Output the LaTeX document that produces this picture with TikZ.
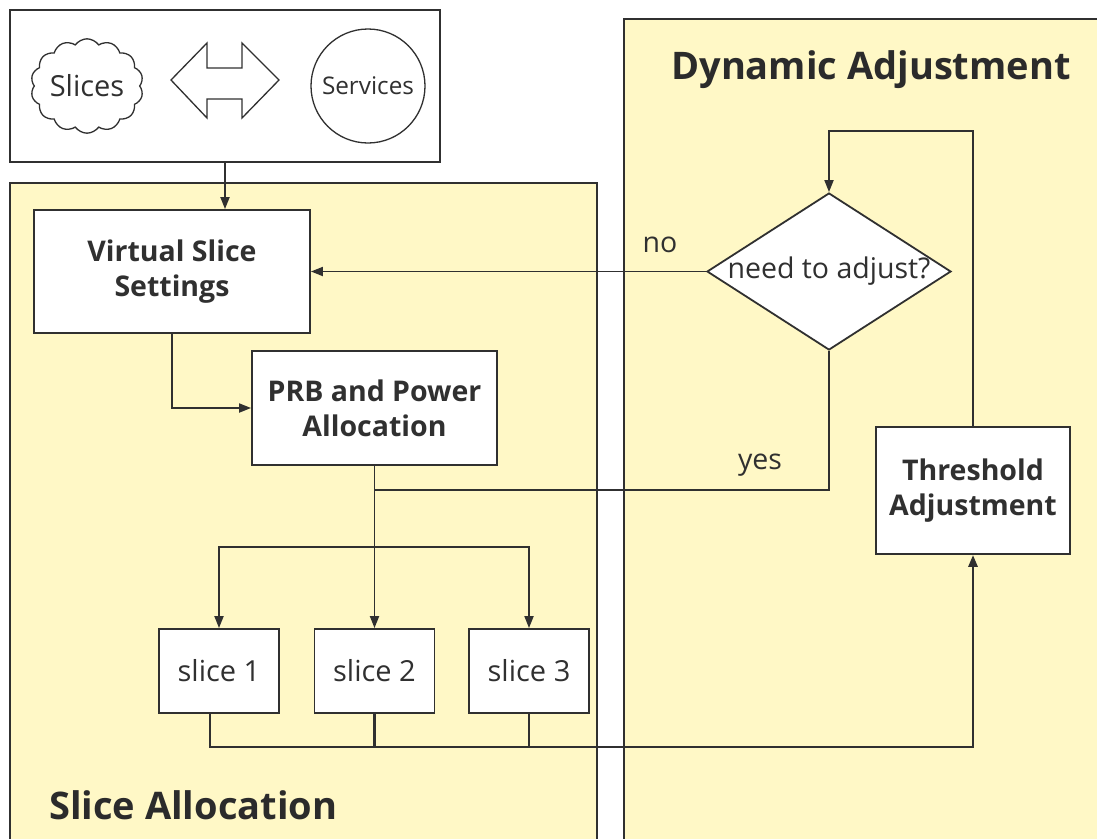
\documentclass[tikz,border=0pt]{standalone}
\usepackage{fontspec}
\setmainfont{Open Sans}
\usetikzlibrary{shapes.geometric,shapes.symbols,arrows.meta}
\definecolor{panelfill}{HTML}{FFF8C6}
\definecolor{ink}{HTML}{303030}
\tikzset{
  panel/.style={draw=ink,line width=1.8pt,fill=panelfill},
  whitebox/.style={draw=ink,line width=1.8pt,fill=white,rectangle,inner sep=0pt,align=center,font=\fontsize{28.5}{35}\selectfont\bfseries,text=ink},
  slicebox/.style={draw=ink,line width=1.8pt,fill=white,rectangle,inner sep=0pt,minimum width=120pt,minimum height=84pt,font=\fontsize{29}{34}\selectfont,text=ink},
  conn/.style={draw=ink,line width=1.8pt},
  thickconn/.style={draw=ink,line width=2.8pt},
  arr/.style={-{Triangle[length=12pt,width=9pt]}},
  lbl/.style={font=\fontsize{28.5}{34}\selectfont,text=ink,inner sep=0pt},
  title/.style={font=\fontsize{38}{46}\selectfont\bfseries,text=ink!90!black,inner sep=0pt}
}
\begin{document}
\begin{tikzpicture}[x=1pt,y=-1pt]
\clip (0,0) rectangle (1097,838);
\fill[white] (0,0) rectangle (1097,838);
% panels
\draw[panel] (10,183) rectangle (597,850);
\draw[panel] (624,19) rectangle (1110,850);
\node[title] (titleDA) at (871,70) {Dynamic Adjustment};
\node[title,anchor=west] (titleSA) at (49,805) {Slice Allocation};
% top box
\node[draw=ink,line width=1.8pt,fill=white,rectangle,minimum width=430pt,minimum height=152pt,inner sep=0pt] (top) at (225,86) {};
\node[cloud,draw=ink,line width=1.3pt,fill=white,cloud puffs=14,cloud puff arc=110,aspect=1.25,minimum width=104pt,minimum height=84pt,inner sep=0pt,font=\fontsize{29}{34}\selectfont,text=ink] (slices) at (87,86) {Slices};
\node[circle,draw=ink,line width=1.3pt,fill=white,minimum size=114pt,inner sep=0pt,font=\fontsize{24.3}{29}\selectfont,text=ink] (services) at (368,86) {Services};
\draw[draw=ink,line width=1.3pt,fill=white] (171,80) -- (207,43) -- (207,68) -- (242,68) -- (242,43) -- (279,80) -- (242,118) -- (242,99) -- (207,99) -- (207,118) -- cycle;
% main boxes
\node[whitebox,minimum width=276pt,minimum height=123pt] (vss) at (172,271.5) {Virtual Slice\\Settings};
\node[whitebox,minimum width=245pt,minimum height=114pt] (prb) at (374.5,408) {PRB and Power\\Allocation};
\node[slicebox] (s1) at (219,671) {slice 1};
\node[slicebox] (s2) at (374.5,671) {slice 2};
\node[slicebox] (s3) at (529,671) {slice 3};
\node[whitebox,minimum width=194pt,minimum height=127pt] (thr) at (973,490.5) {Threshold\\Adjustment};
\node[diamond,draw=ink,line width=1.8pt,fill=white,minimum width=244pt,minimum height=157pt,inner sep=0pt] (dec) at (829,271.5) {};
\node[lbl] (dectext) at (dec.center) {need to adjust?};
% coordinates
\coordinate (b) at (374.5,547);
\coordinate (y0) at (374.5,490);
\coordinate (c1) at (210,747);
\coordinate (c2) at (374.5,747);
\coordinate (lp) at (973,131);
% connectors
\draw[conn,arr] (top.south) -- (top.south |- vss.north);
\draw[conn,arr] (vss.south) |- (prb.west);
\draw[conn,arr] (dec.west) -- (vss.east);
\draw[conn,arr] (prb.south) -- (s2.north);
\draw[conn,arr] (b) -| (s1.north);
\draw[conn,arr] (b) -| (s3.north);
\draw[thickconn] (y0) -| (dec.south);
\draw[conn] (s1.south -| c1) -- (c1) -- (c2);
\draw[conn] (s3.south) -- (s3.south |- c1);
\draw[thickconn,arr] (s2.south) -- (c2) -| (thr.south);
\draw[conn,arr] (thr.north) -- (lp) -| (dec.north);
% labels
\node[lbl] (nolbl) at (660,245) {no};
\node[lbl] (yeslbl) at (760,465) {yes};
\end{tikzpicture}
\end{document}
